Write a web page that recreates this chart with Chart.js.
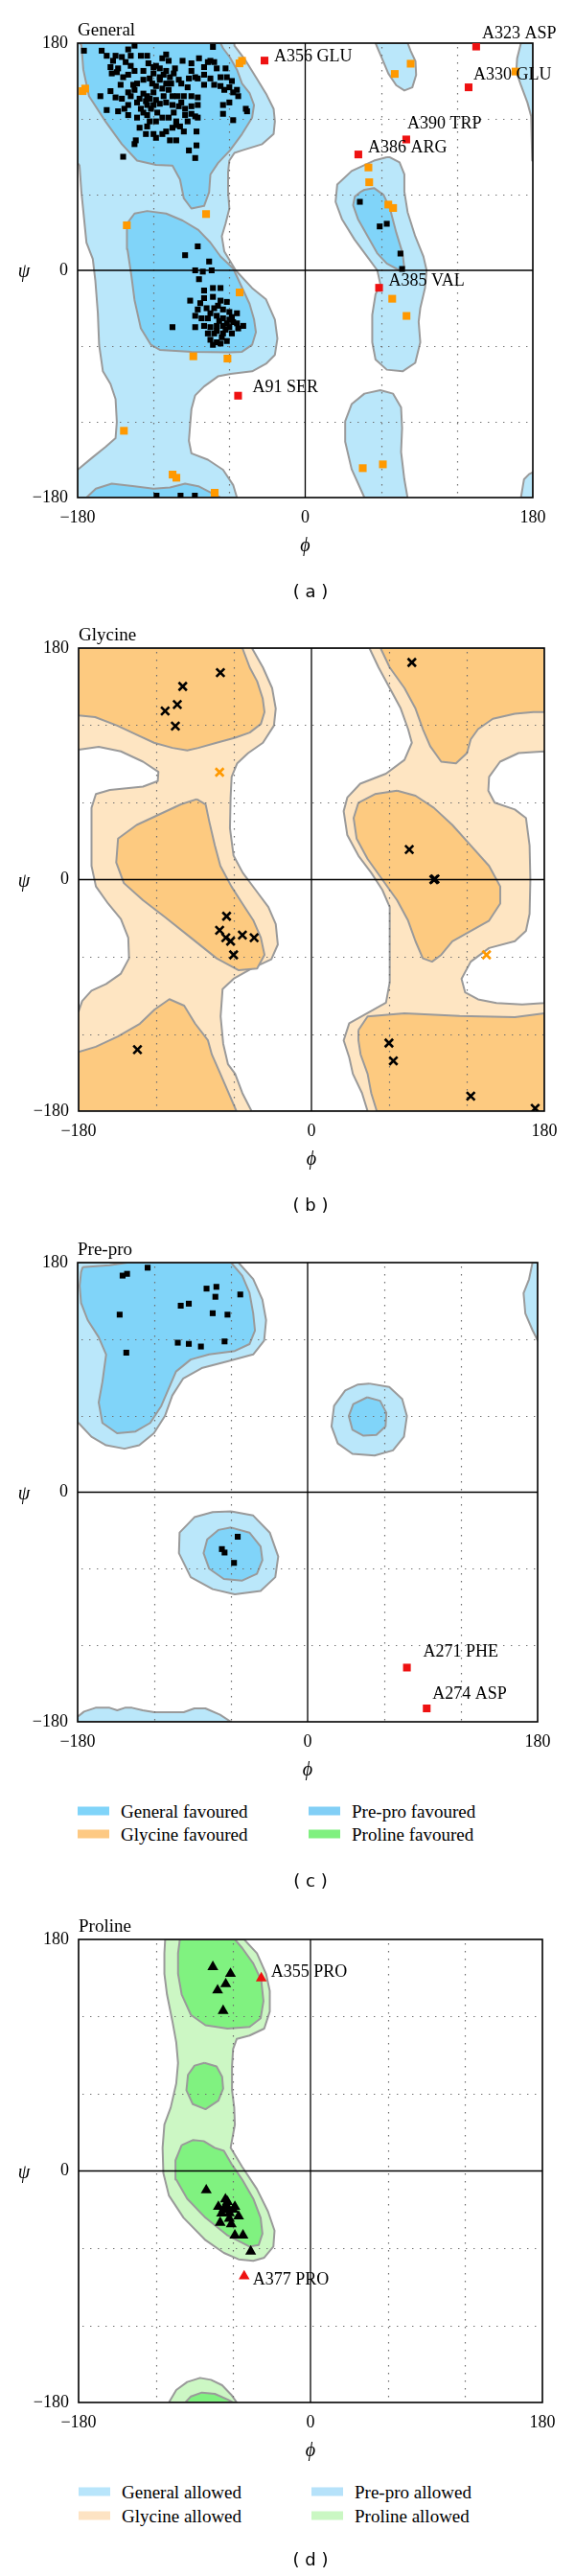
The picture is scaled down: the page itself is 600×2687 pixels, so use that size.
<!DOCTYPE html>
<html><head><meta charset="utf-8">
<script src="https://cdn.jsdelivr.net/npm/chart.js@4.4.1/dist/chart.umd.min.js"></script>
<style>
html,body{margin:0;padding:0;background:#fff}
body{position:relative;width:600px;height:2687px;overflow:hidden;font-family:"Liberation Serif","Times New Roman",serif;color:#000}
canvas{position:absolute;left:0}
.t{position:absolute;white-space:nowrap;line-height:1}
.title{font-size:19px;transform:translateY(-50%)}
.axis{font-size:20px;font-style:italic;transform:translate(-50%,-50%)}
.cap{font-family:"DejaVu Sans",sans-serif;font-size:18px;transform:translate(-50%,-50%)}
.lg{font-size:19px;transform:translateY(-50%)}
.sw{position:absolute;width:33px;height:9px;transform:translateY(-50%)}
</style></head><body>
<script>
// ---------- axes ----------
const axisTickValues = [-180, 0, 180];
const gridValues = [-120, -60, 60, 120];

// ---------- (a) General ----------
const genAllowedLeft = [[-180,180],[-56,180],[-56,178],[-47,166],[-39,153],[-31,140],[-25,128],[-24,118],[-25,108],[-34,100],[-50,95],[-56,93],[-60,87],[-61,78],[-61,62],[-60,49],[-63,37],[-66,27],[-64,15],[-55,0],[-42,-14],[-31,-23],[-24,-39],[-22,-54],[-24,-67],[-31,-74],[-42,-80],[-59,-82],[-69,-84],[-80,-92],[-87,-99],[-90,-110],[-91,-122],[-92,-135],[-90,-145],[-77,-150],[-65,-158],[-57,-170],[-54,-180],[-180,-180],[-180,-158],[-168,-148],[-158,-140],[-150,-133],[-149,-120],[-150,-102],[-154,-90],[-160,-80],[-163,-59],[-164,-34],[-166,-8],[-168,9],[-173,22],[-177,62],[-178.5,83],[-180,85]];
const genAllowedTopRight = [[55.6,180],[60.7,168],[65.7,156],[72,146.6],[78.4,142.5],[84.7,145],[87.7,154.8],[87.2,165.6],[83.4,173.8],[81,180]];
const genAllowedBottomRight = [[46.8,-180],[36.7,-157.5],[31.6,-135.8],[31.6,-119.5],[36.7,-106],[46.8,-97.7],[59.4,-95],[69.5,-97.7],[75.8,-108.6],[76.6,-124.9],[75.8,-143.9],[78.4,-165.6],[80.9,-180]];
const genAllowedLeftHanded = [[64.5,89.6],[54.4,86.9],[36.7,78.7],[25.3,67.9],[24,54.3],[29,40.7],[39,24.4],[49,10.9],[57,0],[59.4,-10.9],[55.6,-19],[53,-35.3],[53,-57],[55.6,-70.6],[64.5,-78.7],[77,-80],[87,-73.3],[91,-57],[89.7,-40.7],[91,-29.9],[94.8,-13.6],[96,0],[93.5,10.9],[87,27],[81,46],[78.4,62.4],[78.4,76],[74.6,85.5],[67,89.6]];
const genAllowedEdgeTop = [[170.6,180],[167.6,168],[166.9,157.5],[170.6,146.6],[175.7,133],[178.7,122],[179.5,87],[180,87],[180,180]];
const genAllowedEdgeBottom = [[170.6,-180],[173,-165.6],[177,-161.5],[180,-160],[180,-180]];
const genFavBeta = [[-178.5,180],[-177,178.5],[-175.5,159],[-171,138],[-158,118],[-145,100],[-133,87],[-118,83.5],[-105,83],[-99,72],[-96,57],[-90,49],[-80,51],[-76,62],[-75,76],[-69,85],[-59.5,95],[-50,108],[-42,121],[-40.5,131],[-44,140.5],[-50,148],[-54,159],[-59.5,168.6],[-65,176],[-67,180]];
const genFavAlpha = [[-141,37],[-135,45],[-125,47],[-110,45],[-97,39.5],[-84.5,32],[-75,22],[-67,11],[-57,1.5],[-50,-13.7],[-44,-26.6],[-40.5,-38.7],[-39,-49],[-42,-59],[-50,-64.5],[-59.5,-65],[-90,-64.5],[-115,-63],[-122,-59],[-130,-46],[-135,-23.5],[-137.5,-4],[-140.6,16.7]];
const genFavBottom = [[-173,-180],[-165.6,-173],[-153,-169],[-135,-171],[-120,-173],[-107,-172],[-95,-169],[-84.5,-171],[-75,-176],[-67,-180]];
const genFavLeftHanded = [[44.2,62.4],[39.2,58.4],[37.9,51.6],[41.7,40.7],[49.3,27.2],[56.9,13.6],[64.5,5.4],[74.6,0],[78.4,1.4],[77,13.6],[72,29.9],[67,48.9],[62,59.7],[54.4,65.2],[46.8,63.8]];

const genFavouredPts = [
[-175,174],[-161,174],[-135,178],[-110,171],[-73,177],
[-152,166],[-154,161],[-153,156],[-145,169],[-142,165],[-138,170],[-130,170],[-125,170],[-124,164],[-120,161],[-115,160],[-110,158],[-104,156],[-90,164],[-90,158],[-77,165],[-75,166],[-72,165],[-80,161],[-87,153],[-92,152],[-85,152],[-75,152],[-67,153],[-62,153],[-80,147],[-72,147],[-67,146],[-64,143],[-60,145],[-57,141],[-54,143],[-53,138],
[-162,138],[-154,142],[-157,127],[-145,136],[-140,141],[-138,138],[-140,131],[-133,133],[-130,128],[-125,138],[-123,136],[-120,141],[-118,146],[-115,151],[-110,148],[-108,143],[-105,138],[-101,138],[-96,138],[-90,138],[-85,137],[-125,131],[-120,131],[-115,132],[-110,133],[-105,131],[-100,130],[-95,128],[-90,130],[-85,131],[-125,123],[-123,118],[-118,118],[-113,121],[-108,121],[-102,118],[-95,123],[-90,124],[-87,122],[-85,121],[-65,131],[-60,133],[-65,124],[-57,119],[-47,128],[-46,126],[-125,114],[-120,108],[-118,105],[-113,108],[-110,110],[-105,113],[-102,115],[-96,110],[-86,110],[-134,103],[-135,100],[-107,103],[-102,103],[-92,95],[-86,99],[-87,89],[-144,90],
[-135,143],[-133,148],[-128,151],[-123,152],[-120,156],[-115,153],[-112,155],[-107,153],[-100,151],[-138,162],[-135,158],[-140,155],[-148,160],[-144,153],[-149,157],
[-128,140],[-126,134],[-131,136],[-122,128],[-118,135],[-112,138],[-128,125],[-133,121],[-140,123],[-117,125],[-104,125],[-98,133],[-93,145],[-98,148],[-103,160],[-97,166],[-108,166],[-113,168],[-150,170],[-157,170],[-140,175],[-146,147],[-150,137],[-80,155],[-70,160],[-84,168],[-63,160],[-58,150],[-113,144],[-106,148],[-131,113],[-126,108],[-93,118],[-99,114],[-143,128],[-148,126],[-128,158],[-118,162],[-121,148],[-136,147],
[-95,12],[-85,19],[-76,7],[-87,0],[-81,-1],[-74,0],[-84,-7],[-80,-16],[-73,-14],[-67,-14],[-91,-24],[-80,-22],[-73,-21],[-67,-24],[-62,-25],[-85,-31],[-78,-30],[-72,-30],[-65,-31],[-60,-33],[-54,-34],[-87,-36],[-82,-38],[-77,-38],[-70,-36],[-65,-38],[-60,-39],[-54,-42],[-49,-44],[-105,-45],[-87,-45],[-80,-44],[-75,-45],[-70,-44],[-65,-44],[-60,-45],[-53,-46],[-77,-50],[-72,-50],[-65,-50],[-58,-50],[-75,-55],[-70,-57],[-62,-56],[-73,-59],[-67,-58],
[-68,-40],[-62,-42],[-70,-48],[-63,-47],[-57,-41],[-75,-34],[-69,-28],[-83,-26],[-58,-37],[-66,-53],
[43.2,54.3],[58.9,34.8],[64.5,36.9],[75.3,13.3],[76.6,1.1],
[-117.6,-178.5],[-98.6,-178.5],[-87.3,-178.5]];
const genAllowedPts = [[-52,164],[-50,166],[-176,142],[-174,144],[-78.4,44.6],[-141.1,35.7],[-51.9,-17.5],[-88.5,-68.1],[-61.5,-69.9],[-143.4,-127.1],[-104.9,-161.8],[-101.9,-164.3],[-71.6,-176.2],[83.4,163.7],[70.8,155.6],[50,81.5],[50.6,69.8],[65.7,52.1],[69.5,49.4],[68.8,-22.5],[80.1,-36.1],[45.5,-156.7],[61.4,-153.7],[166.3,157.5]];
const genOutlierPts = [[-32.2,166.2],[135.2,177.3],[129.2,145],[79.9,103.7],[42,91.8],[58.4,-13.8],[-53.1,-99.3]];
const genOutlierNames = ['A356 GLU','A323 ASP','A330 GLU','A390 TRP','A386 ARG','A385 VAL','A91 SER'];

// ---------- (b) Glycine ----------
const glyAllowedAll = [[-180,-180],[180,-180],[180,180],[-180,180]];
const glyHoleCentre = [[-46,180],[-37.5,164.9],[-30.4,148.9],[-27.6,133],[-29,119.7],[-37.5,106.4],[-48.9,98.4],[-57.4,90.4],[-61.7,79.8],[-62.5,63.8],[-63,39.9],[-60.2,18.6],[-53.1,5.3],[-43.2,-8],[-33.3,-21.3],[-27.6,-34.6],[-26,-50.5],[-31,-62],[-46,-69.1],[-60.2,-77.1],[-68.7,-85.1],[-70.2,-106.4],[-68.2,-127.6],[-64.5,-143.6],[-59,-151],[-53.4,-166],[-46.3,-180],[43.4,-180],[39.1,-166],[32,-151],[29.2,-138.3],[24.9,-125],[29.2,-111.7],[43.4,-103.7],[57.6,-95.7],[60.5,-79.8],[60.5,-66.5],[60.5,-39.9],[60.5,-21.3],[54.8,-8],[46.2,5.3],[36.3,18.6],[27.7,34.6],[24.9,53.2],[27.7,63.8],[37.7,74.5],[57.6,82.4],[71.9,93.1],[77.6,106.4],[74.7,117],[69,133],[60.5,148.9],[51.9,164.9],[44.8,180]];
const glyHoleRight = [[180,99.7],[160.1,98.4],[145.8,91.7],[137.3,79.8],[136.7,69.1],[141.6,59.8],[157.2,54.5],[165.8,47.9],[168.6,26.6],[169.2,0],[168.6,-26.6],[165.8,-39.9],[157.2,-47.9],[137.3,-53.2],[123.1,-63.8],[116,-77.1],[118.8,-87.7],[128.8,-93.1],[143,-96],[162.9,-97],[180,-96]];
const glyHoleLeft = [[-180,101],[-164.4,103.2],[-147.3,99.7],[-130.2,91.7],[-118.3,83.8],[-118.8,76.6],[-130.2,72.3],[-155.8,69.7],[-166.6,66.5],[-170,55.8],[-170,34.6],[-170,10.6],[-166.6,-5.3],[-157.2,-18.6],[-147.3,-30.6],[-141.6,-45.2],[-141,-61.2],[-147.3,-73.1],[-158.7,-81.1],[-170,-86.4],[-177.2,-94.4],[-180,-102.4]];
const glyFavTopLeft = [[-180,180],[-53.4,180],[-47.7,164.9],[-42,154.2],[-37.7,140.9],[-36.3,130.3],[-39.1,121],[-47.7,114.3],[-59,110.3],[-73.3,106.4],[-87.5,102.4],[-96,100.5],[-107.4,102.4],[-121.7,106.4],[-135.9,113],[-150.1,119.7],[-167.2,126.3],[-180,127.6]];
const glyFavBottomLeft = [[-180,-134],[-166.7,-130],[-149.6,-122],[-132.6,-112],[-121.2,-101],[-109.8,-93],[-98.4,-98],[-89.9,-112],[-80,-125],[-77,-136],[-70.4,-151],[-64,-166],[-58,-180],[-180,-180]];
const glyFavAlpha = [[-88.7,62.5],[-100.9,58.5],[-118,50.5],[-135.1,42.5],[-149.5,31.9],[-150.9,13.3],[-145,-2.7],[-130.2,-16],[-113.1,-29.2],[-93.2,-45.2],[-73.3,-61.2],[-56.2,-70.5],[-42,-69.1],[-36.3,-58.5],[-39.1,-45.2],[-44.8,-31.9],[-53.4,-18.6],[-61.9,-5.3],[-70.4,10.6],[-74.7,26.6],[-79,45.2],[-81.8,58.5]];
const glyFavTopRight = [[53.4,180],[60.5,164.9],[71.9,148.9],[80.4,133],[86.1,117],[91.8,103.7],[100.3,91.7],[111.7,90.4],[120.2,98.4],[123.1,109],[128.8,117],[140.2,125],[157.2,129],[171.5,130.3],[180,130.3],[180,180]];
const glyFavAlphaL = [[66.2,69.1],[49.1,66.5],[36.3,59.8],[32.6,47.9],[34.9,31.9],[43.4,16],[54.8,0],[66.2,-16],[74.7,-31.9],[80.4,-47.9],[86.1,-61.2],[93.2,-63.8],[100.3,-58.5],[108.9,-47.9],[123.1,-39.9],[137.3,-31.9],[145.9,-18.6],[145.9,-5.3],[137.3,10.6],[123.1,26.6],[108.9,42.5],[94.6,55.8],[80.4,65.2]];
const glyFavBottomRight = [[36.3,-117],[43.4,-106.4],[71.9,-104],[114.5,-106],[157.2,-107],[180,-104],[180,-180],[50.5,-180],[46.2,-166],[43.4,-151],[38,-136],[36.3,-125]];
const glyFavouredPts = [[-70.4,160.9],[-99.5,150.2],[-103.7,136.1],[-113.1,131.1],[-105.2,119.4],[-65.6,-28.5],[-71,-39.4],[-66.2,-45.2],[-62.5,-47.9],[-53.4,-43.1],[-44.3,-45.2],[-60.2,-58.5],[-134.5,-132.2],[77.6,168.8],[75.6,23.4],[94.6,0],[95.5,0.5],[59.9,-127.1],[63.3,-140.9],[123.1,-168.3],[172.9,-177.8]];
const glyAllowedPts = [[-71,83.5],[135.3,-58.5]];

// ---------- (c) Pre-pro ----------
const preAllowedMain = [[-180,180],[-54.1,180],[-42.6,167.1],[-35.4,151],[-32.5,134.9],[-34,118.8],[-42.6,108],[-62.7,102.6],[-82.9,97.3],[-97.3,89.2],[-105.9,75.8],[-111.7,59.7],[-120.3,46.2],[-131.8,36.8],[-143.3,34.1],[-157.7,36.8],[-169.2,43.5],[-179.3,54.3],[-180,59.7]];
const preAllowedBottom = [[-180,-176],[-175,-172],[-166,-169],[-155,-169],[-149,-171],[-143,-169],[-137.5,-169],[-129,-171],[-120,-172.5],[-97,-172.5],[-88.6,-169.5],[-80,-169.5],[-68.5,-174.5],[-60,-180],[-180,-180]];
const preAllowedAlphaL = [[48.1,85.2],[63.9,82.5],[74,73.1],[77.7,59.7],[75.4,43.5],[66.8,32.8],[52.4,28.8],[35.1,30.1],[23.6,38.2],[18.7,51.6],[20.7,67.7],[29.4,79.8],[39.4,84.4]];
const preAllowedAlpha = [[-59.9,-15],[-42.6,-18.3],[-29.6,-31.7],[-23,-50.5],[-25.3,-66.6],[-36.8,-77.4],[-57,-80.1],[-74.3,-76],[-91.5,-66.6],[-100.7,-47.8],[-100.2,-31.7],[-88.6,-19.6],[-74.3,-15.6]];
const preAllowedEdge = [[180,180],[176,180],[173.3,167],[169,156],[170.4,140],[176,127],[180,119]];
const preFavMain = [[-176,176.5],[-155,178],[-141,180],[-59.9,180],[-51.2,169.8],[-45.5,156.4],[-42.6,140.3],[-41.2,126.8],[-45.5,116.1],[-57,110.7],[-77.1,108],[-91.5,104],[-103,94.6],[-108.8,81.1],[-114.5,67.7],[-123.2,54.3],[-134.7,47.6],[-149.1,46.2],[-160.6,54.3],[-163.5,70.4],[-160.6,86.5],[-157.7,108],[-163.5,121.5],[-172.1,134.9],[-177.3,148.3],[-178.4,161.8],[-177.3,172.5]];
const preFavAlphaL = [[46.6,74.4],[56.7,71.7],[61.6,62.3],[61,51.6],[53.8,44.9],[43.7,44.3],[35.1,48.9],[32.2,59.7],[35.7,69.1]];
const preFavAlpha = [[-59.9,-27.7],[-45.5,-31.7],[-36.8,-42.5],[-35.4,-53.2],[-39.7,-64],[-51.2,-69.3],[-65.6,-68],[-77.1,-59.9],[-81.4,-47.8],[-78.6,-37.1],[-69.9,-29.6]];
const preFavouredPts = [[-144.8,169.8],[-141.3,171.2],[-125.2,176],[-79.1,159.6],[-71.4,161],[-72.2,153.2],[-52.7,155],[-99.3,146.2],[-93,147.8],[-147.1,139.2],[-74.3,140.3],[-62.7,139.2],[-101.6,117.2],[-93,116.3],[-83.5,114.2],[-65,118.2],[-141.9,109.4],[-54.7,-34.9],[-67.1,-44.6],[-65,-47.3],[-57.6,-55.4]];
const preOutlierPts = [[77.7,-137.5],[93.2,-169.5]];
const preOutlierNames = ['A271 PHE','A274 ASP'];

// ---------- (d) Proline ----------
const proAllowedMain = [[-112.8,180],[-51.5,180],[-41.6,169.3],[-34.5,153.3],[-31.6,140],[-31.6,124],[-35.9,110.7],[-47.3,105.3],[-57.2,102.7],[-60.1,94.7],[-60.9,81.3],[-60.9,62.7],[-59.2,49.3],[-58.7,36],[-62,18],[-53,3.2],[-41.6,-14.1],[-33,-31.5],[-27.9,-46.4],[-28.8,-58.8],[-35.9,-67.4],[-44.4,-69.9],[-55.8,-68.7],[-67.2,-63.7],[-81.5,-53.8],[-98.5,-36.4],[-109.9,-19.1],[-114.2,-1.7],[-114.8,18],[-113.4,36],[-108.5,49.3],[-104.2,68],[-102.8,84],[-104.2,100],[-107.1,116],[-111.4,137.3],[-113.4,153.3],[-113.4,169.3]];
const proAllowedBottom = [[-109.9,-180],[-104.2,-170.3],[-95.7,-164.1],[-85.7,-160.9],[-77.2,-162.4],[-68.6,-166.6],[-61.5,-174],[-57.2,-180]];
const proFavTop = [[-101.4,180],[-102.8,169.3],[-102.8,153.3],[-100,137.3],[-92.8,121.3],[-81.5,113.3],[-64.4,110.7],[-47.3,112],[-38.7,118.7],[-36.5,132],[-38.2,148],[-44.4,161.3],[-53,173.3],[-58.7,180]];
const proFavMid = [[-82.3,84],[-72.9,81.3],[-68.6,73.3],[-67.8,64],[-71.5,54.7],[-81.5,48],[-91.4,52],[-96.3,62.7],[-95.1,74.7],[-90,81.9]];
const proFavAlpha = [[-100,20],[-91.4,24],[-82.9,23.2],[-74.3,18],[-67.2,15.6],[-61.5,5.7],[-53,-6.7],[-44.4,-21.6],[-38.7,-36.4],[-37.3,-48.8],[-40.2,-57.5],[-47.3,-58.8],[-64.4,-50.1],[-81.5,-36.4],[-95.7,-21.6],[-104.2,-6.7],[-104.8,8.2]];
const proFavBottom = [[-97.1,-180],[-92.8,-175.3],[-84.3,-172.3],[-74.3,-173.3],[-64.4,-177.7],[-60.1,-180]];
const proFavouredPts = [[-75.8,158.7],[-62.1,153.3],[-65.8,145.3],[-72.1,140.5],[-67.8,124.5],[-80.9,-14.9],[-64.4,-24],[-71.5,-27.8],[-67.2,-30.2],[-58.7,-27.8],[-62.9,-32.7],[-70.1,-40.2],[-55.8,-35.2],[-61.5,-41.4],[-58.7,-50.1],[-52.4,-50.1],[-46.4,-62.5],[-65,-27],[-69,-33],[-63,-37],[-67,-29],[-60,-30],[-66,-22]];
const proOutlierPts = [[-38.2,149.9],[-51.5,-81.8]];
const proOutlierNames = ['A355 PRO','A377 PRO'];

// ---------- legends ----------
const legendFavLabels = ['General favoured','Pre-pro favoured','Glycine favoured','Proline favoured'];
const legendAllowedLabels = ['General allowed','Pre-pro allowed','Glycine allowed','Proline allowed'];

// ================= styles & layout =================
const C = {
  genAllowed:'#bae7fa', genFav:'#80d4f9',
  glyAllowed:'#fee5c2', glyFav:'#fdca80',
  proAllowed:'#ccf7c4', proFav:'#80f280',
  hole:'#ffffff', outline:'#9a9a9a',
  orange:'#ff9900', red:'#ee1111'
};
const legendFavColors = ['#80d4f9','#82cff6','#fdc983','#80f080'];
const legendAllowedColors = ['#b8e5fb','#b6e2fa','#fde3c3','#caf7c3'];

function region(pts, color, order){
  const d = pts.concat([pts[0]]).map(p => ({x:p[0], y:p[1]}));
  return {data:d, showLine:true, fill:'shape', backgroundColor:color, borderColor:C.outline,
    borderWidth:2, pointRadius:0, pointHoverRadius:0, pointHitRadius:0, tension:0, order, clip:0, borderJoinStyle:'round'};
}
function points(pts, style){
  return Object.assign({data:pts.map(p => ({x:p[0], y:p[1]})), showLine:false, isPoint:true, clip:0,
    pointHitRadius:0, pointHoverRadius:0}, style);
}
const S = {
  blackSq:{pointStyle:'rect', pointRadius:4.3, pointBackgroundColor:'#000', pointBorderWidth:0, order:3},
  orangeSq:{pointStyle:'rect', pointRadius:5.7, pointBackgroundColor:C.orange, pointBorderWidth:0, order:2},
  redSq:{pointStyle:'rect', pointRadius:5.7, pointBackgroundColor:C.red, pointBorderWidth:0, order:1},
  cross:{pointStyle:'crossRot', pointRadius:6, pointBorderColor:'#000', pointBorderWidth:2.6, order:3},
  orangeCross:{pointStyle:'crossRot', pointRadius:6, pointBorderColor:C.orange, pointBorderWidth:2.6, order:2},
  tri:{pointStyle:'triangle', pointRadius:6.6, pointBackgroundColor:'#000', pointBorderWidth:0, order:3},
  redTri:{pointStyle:'triangle', pointRadius:6.6, pointBackgroundColor:C.red, pointBorderWidth:0, order:1}
};

const fmtTick = v => v < 0 ? '\u2212' + Math.abs(v) : String(v);

function drawFrame(chart){
  const {ctx, chartArea:a} = chart;
  const xs = chart.scales.x, ys = chart.scales.y;
  ctx.save();
  ctx.strokeStyle = '#6f6f6f'; ctx.lineWidth = 1.2; ctx.setLineDash([1.4, 6.6]);
  for (const v of gridValues){
    const px = Math.round(xs.getPixelForValue(v)) + 0.5;
    ctx.beginPath(); ctx.moveTo(px, a.top + 4); ctx.lineTo(px, a.bottom); ctx.stroke();
    const py = Math.round(ys.getPixelForValue(v)) + 0.5;
    ctx.beginPath(); ctx.moveTo(a.left + 4, py); ctx.lineTo(a.right, py); ctx.stroke();
  }
  ctx.setLineDash([]); ctx.strokeStyle = '#000'; ctx.lineWidth = 1.3;
  const zx = xs.getPixelForValue(0), zy = ys.getPixelForValue(0);
  ctx.beginPath(); ctx.moveTo(zx, a.top); ctx.lineTo(zx, a.bottom); ctx.stroke();
  ctx.beginPath(); ctx.moveTo(a.left, zy); ctx.lineTo(a.right, zy); ctx.stroke();
  ctx.lineWidth = 1.6;
  ctx.strokeRect(a.left, a.top, a.right - a.left, a.bottom - a.top);
  ctx.restore();
}
function framePlugin(labels){
  return {
    id:'frame',
    beforeDatasetsDraw(chart){ chart.$fd = false; },
    beforeDatasetDraw(chart, args){
      const ds = chart.data.datasets[args.index];
      if (ds.isPoint && !chart.$fd){ drawFrame(chart); chart.$fd = true; }
    },
    afterDatasetsDraw(chart){
      if (!chart.$fd){ drawFrame(chart); chart.$fd = true; }
      const ctx = chart.ctx, xs = chart.scales.x, ys = chart.scales.y;
      ctx.save();
      ctx.font = '18px "Liberation Serif"'; ctx.fillStyle = '#000'; ctx.textBaseline = 'middle'; ctx.textAlign = 'left';
      labels.pts.forEach((p, i) => {
        const off = labels.offsets[i];
        ctx.fillText(labels.names[i], xs.getPixelForValue(p[0]) + off[0], ys.getPixelForValue(p[1]) + off[1]);
      });
      ctx.restore();
    }
  };
}

function addText(cls, txt, x, y){
  const d = document.createElement('div');
  d.className = 't ' + cls; d.textContent = txt;
  d.style.left = x + 'px'; d.style.top = y + 'px';
  document.body.appendChild(d); return d;
}

function buildPanel(p){
  const c = document.createElement('canvas');
  const top = p.t - 40, h = (p.b - p.t) + 80;
  c.width = 600; c.height = h; c.style.top = top + 'px'; c.style.width = '600px'; c.style.height = h + 'px';
  document.body.appendChild(c);
  const tickFont = {family:'Liberation Serif', size:18};
  new Chart(c.getContext('2d'), {
    type:'scatter',
    data:{datasets:p.datasets},
    options:{
      responsive:false, animation:false, devicePixelRatio:1, events:[],
      layout:{padding:{top:40, right:600 - p.r, bottom:0, left:0}},
      plugins:{legend:{display:false}, tooltip:{enabled:false}},
      scales:{
        x:{type:'linear', position:'bottom', min:-180, max:180,
          afterBuildTicks:s => { s.ticks = axisTickValues.map(v => ({value:v})); },
          afterFit:s => { s.height = 40; },
          grid:{display:false, drawTicks:false}, border:{display:false},
          ticks:{padding:10, color:'#000', font:tickFont, callback:fmtTick, maxRotation:0, autoSkip:false}},
        y:{type:'linear', position:'left', min:-180, max:180,
          afterBuildTicks:s => { s.ticks = axisTickValues.map(v => ({value:v})); },
          afterFit:s => { s.width = p.l; },
          grid:{display:false, drawTicks:false}, border:{display:false},
          ticks:{padding:10, color:'#000', font:tickFont, callback:fmtTick, autoSkip:false}}
      }
    },
    plugins:[framePlugin(p.labels)]
  });
  addText('title', p.title, p.l, p.t - 15);
  addText('axis', '\u03C8', 25, (p.t + p.b) / 2);
  addText('axis', '\u03D5', (p.l + p.r) / 2, p.b + 49);
  addText('cap', p.caption, 324, p.capY);
}

function buildLegend(labels, colors, x0s, ys){
  labels.forEach((lab, i) => {
    const col = i % 2, row = Math.floor(i / 2);
    const sw = document.createElement('div');
    sw.className = 'sw'; sw.style.left = x0s[col] + 'px'; sw.style.top = ys[row] + 'px'; sw.style.background = colors[i];
    document.body.appendChild(sw);
    addText('lg', lab, x0s[col] + 45, ys[row]);
  });
}

const emptyLabels = {pts:[], names:[], offsets:[]};

buildPanel({l:81, r:556, t:45, b:519, title:'General', caption:'( a )', capY:617,
  labels:{pts:genOutlierPts, names:genOutlierNames, offsets:[[10,-4],[6,-13],[5,-13],[1,-16],[10,-7],[10,-7],[15,-8]]},
  datasets:[
    points(genOutlierPts, S.redSq),
    points(genAllowedPts, S.orangeSq),
    points(genFavouredPts, S.blackSq),
    region(genFavBeta, C.genFav, 20), region(genFavAlpha, C.genFav, 20), region(genFavBottom, C.genFav, 20), region(genFavLeftHanded, C.genFav, 20),
    region(genAllowedLeft, C.genAllowed, 30), region(genAllowedTopRight, C.genAllowed, 30), region(genAllowedBottomRight, C.genAllowed, 30),
    region(genAllowedLeftHanded, C.genAllowed, 30), region(genAllowedEdgeTop, C.genAllowed, 30), region(genAllowedEdgeBottom, C.genAllowed, 30)
  ]});

buildPanel({l:82, r:568, t:676, b:1159, title:'Glycine', caption:'( b )', capY:1257,
  labels:emptyLabels,
  datasets:[
    points(glyAllowedPts, S.orangeCross),
    points(glyFavouredPts, S.cross),
    region(glyFavTopLeft, C.glyFav, 20), region(glyFavBottomLeft, C.glyFav, 20), region(glyFavAlpha, C.glyFav, 20),
    region(glyFavTopRight, C.glyFav, 20), region(glyFavAlphaL, C.glyFav, 20), region(glyFavBottomRight, C.glyFav, 20),
    region(glyHoleCentre, C.hole, 30), region(glyHoleRight, C.hole, 30), region(glyHoleLeft, C.hole, 30),
    Object.assign(region(glyAllowedAll, C.glyAllowed, 40), {borderWidth:0})
  ]});

buildPanel({l:81, r:561, t:1317, b:1796, title:'Pre-pro', caption:'( c )', capY:1962,
  labels:{pts:preOutlierPts, names:preOutlierNames, offsets:[[17,-16],[6,-15]]},
  datasets:[
    points(preOutlierPts, S.redSq),
    points(preFavouredPts, S.blackSq),
    region(preFavMain, C.genFav, 20), region(preFavAlphaL, C.genFav, 20), region(preFavAlpha, C.genFav, 20),
    region(preAllowedMain, C.genAllowed, 30), region(preAllowedBottom, C.genAllowed, 30), region(preAllowedAlphaL, C.genAllowed, 30),
    region(preAllowedAlpha, C.genAllowed, 30), region(preAllowedEdge, C.genAllowed, 30)
  ]});
buildLegend(legendFavLabels, legendFavColors, [81, 322], [1889, 1913]);

buildPanel({l:82, r:566, t:2023, b:2506, title:'Proline', caption:'( d )', capY:2670,
  labels:{pts:proOutlierPts, names:proOutlierNames, offsets:[[10,-6],[9,4]]},
  datasets:[
    points(proOutlierPts, S.redTri),
    points(proFavouredPts, S.tri),
    region(proFavTop, C.proFav, 20), region(proFavMid, C.proFav, 20), region(proFavAlpha, C.proFav, 20), region(proFavBottom, C.proFav, 20),
    region(proAllowedMain, C.proAllowed, 30), region(proAllowedBottom, C.proAllowed, 30)
  ]});
buildLegend(legendAllowedLabels, legendAllowedColors, [82, 325], [2599, 2624]);
</script>
</body></html>
